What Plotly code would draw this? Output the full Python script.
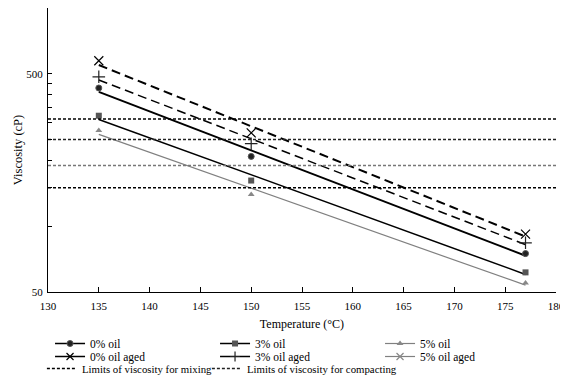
import numpy as np
import plotly.graph_objects as go

# ---- data ----
temperature = [135, 150, 177]
oil0 = [430, 209, 75]
oil3 = [321, 162, 61.5]
oil5 = [275, 140, 55]
oil0_aged = [573, 268, 92]
oil3_aged = [484, 239, 84]
oil5_aged = []  # legend only, no visible data
mixing_limits = [150, 190]
compacting_limits = [250, 310]
x_range = [130, 180]
y_range = [50, 1000]
y_major_ticks = [50, 500]
y_minor_ticks = [100, 150, 200, 250, 300, 350, 400, 450, 1000]

FONT = "Liberation Serif, Times New Roman, serif"

fig = go.Figure()

series = [
    ("0% oil", oil0, dict(symbol="circle", size=6, color="#222", line=dict(color="#555", width=1)),
     dict(color="black", width=2), "legend"),
    ("3% oil", oil3, dict(symbol="square", size=6, color="#555"),
     dict(color="black", width=1.5), "legend"),
    ("5% oil", oil5, dict(symbol="triangle-up", size=6, color="#888"),
     dict(color="#808080", width=1.2), "legend"),
    ("0% oil aged", oil0_aged, dict(symbol="x-thin", size=9, line=dict(color="black", width=1.2)),
     dict(color="black", width=2, dash="9px,5px"), "legend2"),
    ("3% oil aged", oil3_aged, dict(symbol="cross-thin", size=9, line=dict(color="#222", width=1.2)),
     dict(color="black", width=1.5, dash="9px,5px"), "legend2"),
    ("5% oil aged", oil5_aged, dict(symbol="x-thin", size=8, line=dict(color="#888", width=1.2)),
     dict(color="#808080", width=1.2), "legend2"),
]

for name, vals, mk, ln, lg in series:
    if len(vals):
        xs = np.array(temperature, dtype=float)
        coef = np.polyfit(xs, np.log10(vals), 1)
        fit = 10 ** np.polyval(coef, xs)
        fig.add_trace(go.Scatter(x=xs, y=fit, mode="lines", line=ln,
                                 showlegend=False, hoverinfo="skip"))
        fig.add_trace(go.Scatter(x=temperature, y=vals, mode="markers", marker=mk,
                                 showlegend=False))
    # legend entry
    lmk = dict(mk)
    lmk["size"] = min(mk["size"], 7)
    fig.add_trace(go.Scatter(x=[None], y=[None], mode="lines+markers", name=name,
                             marker=lmk, legend=lg,
                             line=dict(color=ln["color"], width=min(ln["width"], 1.5))))

limit_styles = [
    ("Limits of viscosity for mixing", mixing_limits, ["black", "#777"]),
    ("Limits of viscosity for compacting", compacting_limits, ["#222", "black"]),
]
for name, lims, cols in limit_styles:
    for i, (v, c) in enumerate(zip(lims, cols)):
        fig.add_trace(go.Scatter(x=x_range, y=[v, v], mode="lines", name=name,
                                 line=dict(color=c, width=1.5, dash="3px,2px"),
                                 showlegend=(i == 0), legendgroup=name,
                                 legend="legend3", cliponaxis=False))
# blank spacer entry so the last legend row is wide enough for its text
fig.add_trace(go.Scatter(x=[None], y=[None], mode="lines", name=" ",
                         line=dict(width=0, color="rgba(0,0,0,0)"),
                         legend="legend3", hoverinfo="skip"))

# page body has an 8px margin, so the figure is drawn 8px smaller and offset
OFF = 8
W, H = 568 - OFF, 380 - OFF
H0, H1 = 8, 292  # plot area top / bottom in screen px


def py(p):
    return (H1 - p) / (H1 - H0)


leg_common = dict(orientation="h", xanchor="left", yanchor="top",
                  entrywidth=120, entrywidthmode="pixels",
                  font=dict(family=FONT, size=11.5), tracegroupgap=0,
                  itemwidth=30, bgcolor="rgba(0,0,0,0)", borderwidth=0)

fig.update_layout(
    template="none",
    width=W, height=H,
    margin=dict(l=48 - OFF, r=12, t=H0 - OFF, b=H - (H1 - OFF), autoexpand=False),
    paper_bgcolor="white", plot_bgcolor="white",
    font=dict(family=FONT, size=11, color="black"),
    legend=dict(leg_common, x=0.004, y=py(329)),
    legend2=dict(leg_common, x=0.004, y=py(342)),
    legend3=dict(leg_common, x=-0.012, y=py(354), font=dict(family=FONT, size=10.8)),
    xaxis=dict(range=x_range, tickvals=list(range(130, 181, 5)), ticks="inside",
               ticklen=5, tickcolor="black", showline=True, linecolor="black",
               linewidth=1, showgrid=False, zeroline=False, ticklabelstandoff=4,
               automargin=False,
               title=dict(text="Temperature (°C)", font=dict(size=12), standoff=8)),
    yaxis=dict(type="log", range=[np.log10(y_range[0]), np.log10(y_range[1])],
               tickvals=y_major_ticks, ticktext=[str(v) for v in y_major_ticks],
               ticks="inside", ticklen=4, tickcolor="black", showline=True,
               linecolor="black", linewidth=1, showgrid=False, zeroline=False,
               ticklabelstandoff=2, automargin=False,
               minor=dict(tickmode="array", tickvals=y_minor_ticks, ticks="inside",
                          ticklen=4, tickcolor="black", showgrid=False),
               title=dict(text="Viscosity (cP)", font=dict(size=12.5), standoff=0)),
)

fig.write_html("out.html")
